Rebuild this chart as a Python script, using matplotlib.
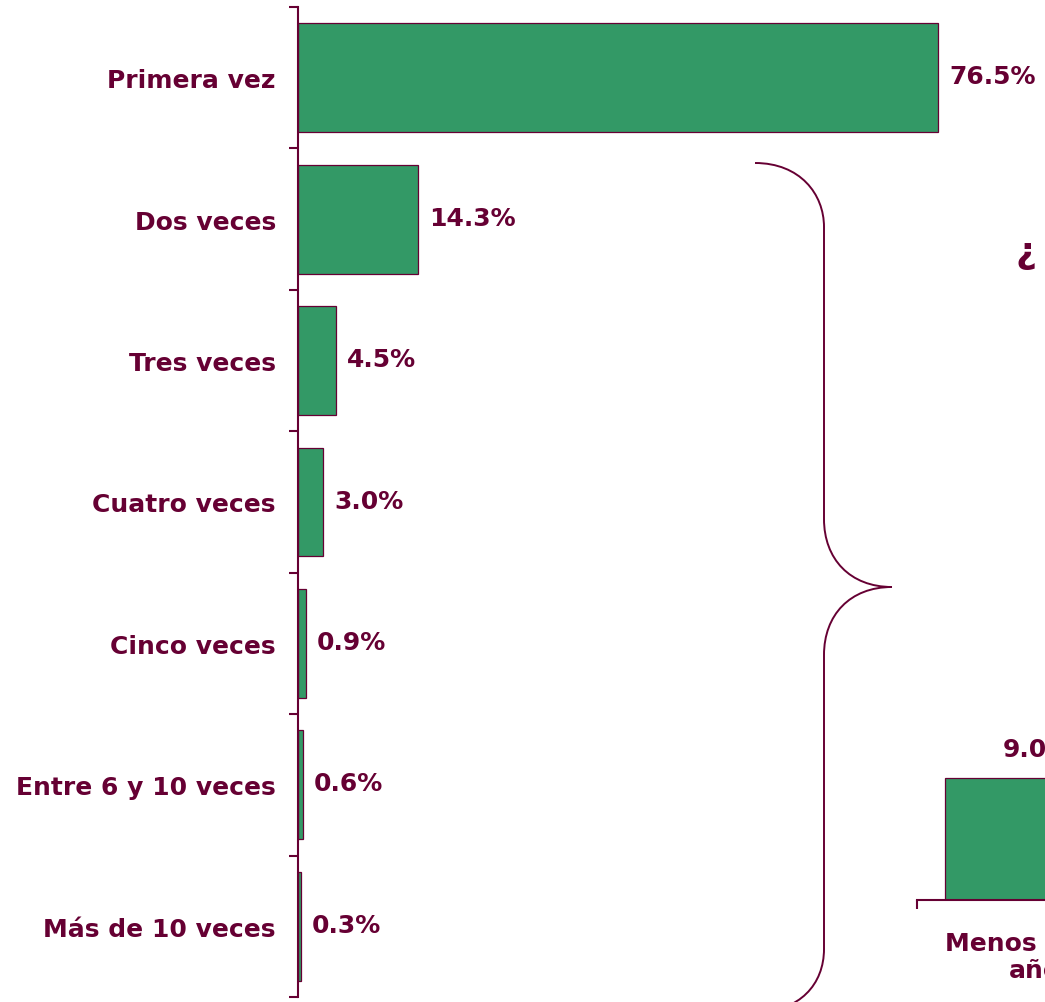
import numpy as np
import matplotlib.pyplot as plt
from matplotlib.path import Path
from matplotlib.patches import PathPatch
from matplotlib.transforms import Affine2D

# data
categories = ["Primera vez", "Dos veces", "Tres veces", "Cuatro veces",
              "Cinco veces", "Entre 6 y 10 veces", "Más de 10 veces"]
values = [76.5, 14.3, 4.5, 3.0, 0.9, 0.6, 0.3]

side_categories = ["Menos de un\naño"]
side_values = [9.0]

MAROON = "#660033"
GREEN = "#339966"
W, H = 1045, 1003

plt.rcParams['font.family'] = ['DejaVu Sans']
plt.rcParams['font.weight'] = 'bold'

fig = plt.figure(figsize=(W / 100, H / 100), dpi=100)
fig.patch.set_facecolor("white")

# main horizontal bar chart
ax = fig.add_axes([298 / W, 5 / H, (W - 298) / W, 990 / H])
y = np.arange(len(categories))
ax.barh(y, values, height=0.77, color=GREEN, edgecolor=MAROON, linewidth=0.9)
ax.set_xlim(0, (W - 298) / 8.366)
ax.set_ylim(len(categories) - 0.5, -0.5)
for s in ["top", "right", "bottom"]:
    ax.spines[s].set_visible(False)
ax.spines["left"].set_color(MAROON)
ax.spines["left"].set_linewidth(1.5)
ax.set_xticks([])
ax.set_yticks(y)
ax.set_yticklabels(categories, fontsize=18, fontweight="bold", color=MAROON)
ax.tick_params(axis="y", which="major", length=0, pad=16)
ax.set_yticks(np.arange(len(categories) + 1) - 0.5, minor=True)
ax.tick_params(axis="y", which="minor", length=6.5, width=1.5, color=MAROON)
for yi, v in zip(y, values):
    ax.annotate(f"{v:.1f}%", (v, yi), xytext=(8, 1), textcoords="offset points",
                ha="left", va="center", fontsize=18, fontweight="bold",
                color=MAROON)

# small side chart (cut by the figure edge, as in the source slide)
ymax = 10.0
ax2 = fig.add_axes([917 / W, (H - 901) / H, 236 / W, 122 * ymax / 9.0 / H])
x2 = np.arange(len(side_categories))
ax2.bar(x2, side_values, width=0.763, color=GREEN, edgecolor=MAROON,
        linewidth=0.9)
ax2.set_xlim(-0.5, len(side_categories) - 0.5)
ax2.set_ylim(0, ymax)
for s in ["top", "right", "left"]:
    ax2.spines[s].set_visible(False)
ax2.spines["bottom"].set_color(MAROON)
ax2.spines["bottom"].set_linewidth(1.5)
ax2.set_yticks([])
ax2.set_xticks(x2)
ax2.set_xticklabels(side_categories, fontsize=18, fontweight="bold",
                    color=MAROON, linespacing=1.2)
ax2.tick_params(axis="x", which="major", length=0, pad=22)
ax2.set_xticks([-0.5], minor=True)
ax2.tick_params(axis="x", which="minor", length=6.5, width=1.5, color=MAROON)
for xi, v in zip(x2, side_values):
    ax2.annotate(f"{v:.1f}%", (xi, v), xytext=(2, 12), textcoords="offset points",
                 ha="center", va="bottom", fontsize=18, fontweight="bold",
                 color=MAROON)

# brace (pixel coordinates, y down)
px = Affine2D().scale(1 / W, -1 / H).translate(0, 1) + fig.transFigure
verts = [(755, 164), (800, 164), (824, 195), (824, 228),
         (824, 520),
         (824, 560), (850, 588), (892, 588),
         (850, 588), (824, 616), (824, 656),
         (824, 950),
         (824, 985), (800, 1013), (755, 1013)]
codes = [Path.MOVETO, Path.CURVE4, Path.CURVE4, Path.CURVE4,
         Path.LINETO,
         Path.CURVE4, Path.CURVE4, Path.CURVE4,
         Path.CURVE4, Path.CURVE4, Path.CURVE4,
         Path.LINETO,
         Path.CURVE4, Path.CURVE4, Path.CURVE4]
fig.patches.append(PathPatch(Path(verts, codes), transform=px, fill=False,
                             edgecolor=MAROON, linewidth=1.4))

# start of the side title, cut by the edge
fig.text(1015 / W, 1 - 236 / H, "¿", ha="left", va="top", fontsize=26,
         fontweight="bold", color=MAROON)

fig.savefig("out.png", dpi=100, facecolor="white")
